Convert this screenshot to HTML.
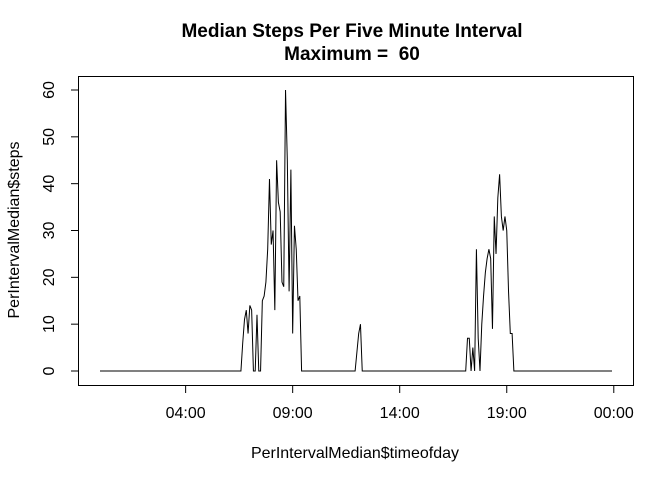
<!DOCTYPE html>
<html><head><meta charset="utf-8"><style>
body{margin:0;background:#fff}
svg{display:block;font-family:"Liberation Sans",Arial,sans-serif}
</style></head><body>
<svg id="chart" width="672" height="480" viewBox="0 0 672 480">
<rect width="672" height="480" fill="#fff"/>
<text x="352" y="37" text-anchor="middle" font-size="19" font-weight="bold">Median Steps Per Five Minute Interval</text>
<text x="352" y="60" text-anchor="middle" font-size="19" font-weight="bold" style="white-space:pre">Maximum =  60</text>
<rect x="78.5" y="76.5" width="555" height="309" fill="none" stroke="#000"/>
<g id="xaxis"></g>
<g id="yaxis"></g>
<text x="355" y="458" text-anchor="middle" font-size="16">PerIntervalMedian$timeofday</text>
<text transform="translate(19,230) rotate(-90)" text-anchor="middle" font-size="16">PerIntervalMedian$steps</text>
<path id="series" fill="none" stroke="#000" stroke-width="1"/>
</svg>
<script>
const yTicks = [0, 10, 20, 30, 40, 50, 60];
const xTickHours = [4, 9, 14, 19, 24];
const xTickLabels = ["04:00", "09:00", "14:00", "19:00", "00:00"];
const nonZeroIntervals = [80,81,82,83,84,85,88,91,92,93,94,95,96,97,98,99,100,101,102,103,104,105,106,107,108,109,110,111,112,
 144,145,146,
 206,207,209,211,212,214,215,216,217,218,219,220,221,222,223,224,225,226,227,228,229,230,231];
const nonZeroSteps = [6,11,13,8,14,13,12,15,16,19,26,41,27,30,13,45,36,34,19,18,60,45,17,43,8,31,26,15,16,
 4,8,10,
 7,7,5,26,7,10,16,21,24,26,24,9,33,25,37,42,33,30,33,30,17,8,8];
const nIntervals = 288;

const x0 = 100, x1 = 612;
const xScale = i => x0 + (x1 - x0) * i / (nIntervals - 1);
const xHour = h => xScale(h * 12);
const y0 = 371, y60 = 90;
const yScale = v => y0 - (y0 - y60) * v / 60;
const NS = "http://www.w3.org/2000/svg";

const steps = new Array(nIntervals).fill(0);
nonZeroIntervals.forEach((i, k) => { steps[i] = nonZeroSteps[k]; });
let d = "";
steps.forEach((v, i) => { d += (i ? "L" : "M") + xScale(i).toFixed(2) + "," + yScale(v).toFixed(2); });
document.getElementById("series").setAttribute("d", d);

const ya = document.getElementById("yaxis");
yTicks.forEach(t => {
  const y = yScale(t);
  const l = document.createElementNS(NS, "line");
  l.setAttribute("x1", 71); l.setAttribute("x2", 78.5);
  l.setAttribute("y1", y); l.setAttribute("y2", y);
  l.setAttribute("stroke", "#000");
  
  
  ya.appendChild(l);
  const tx = document.createElementNS(NS, "text");
  tx.setAttribute("transform", `translate(54,${y}) rotate(-90)`);
  tx.setAttribute("text-anchor", "middle");
  tx.setAttribute("font-size", "16");
  tx.textContent = t;
  
  
  ya.appendChild(tx);
});
const xa = document.getElementById("xaxis");
xTickHours.forEach((h, k) => {
  const x = xHour(h);
  const l = document.createElementNS(NS, "line");
  l.setAttribute("x1", x); l.setAttribute("x2", x);
  l.setAttribute("y1", 385.5); l.setAttribute("y2", 393);
  l.setAttribute("stroke", "#000");
  
  
  xa.appendChild(l);
  const tx = document.createElementNS(NS, "text");
  tx.setAttribute("x", x); tx.setAttribute("y", 418);
  tx.setAttribute("text-anchor", "middle");
  tx.setAttribute("font-size", "16");
  tx.textContent = xTickLabels[k];
  
  
  xa.appendChild(tx);
});
</script>
</body></html>
